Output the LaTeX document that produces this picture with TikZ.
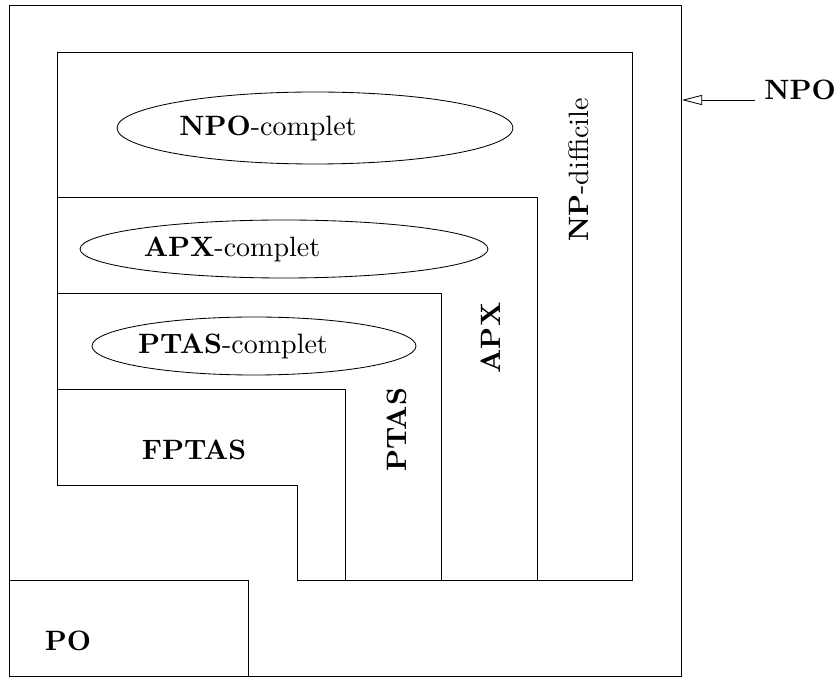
\documentclass[tikz,border=0pt]{standalone}
\usetikzlibrary{arrows.meta}
\tikzset{
  classe/.style={font=\bfseries, anchor=base},
  vclasse/.style={anchor=base, rotate=90},
  complet/.style={anchor=base},
  fleche/.style={-{Triangle[open, length=7.2pt, width=3.6pt]}}
}

\begin{document}
\begin{tikzpicture}[x=0.357pt, y=-0.357pt, line width=0.3pt]
\useasboundingbox (0,0) rectangle (837,677);
% Outer frame and PO
    \draw (9,5) rectangle (681,676);
    \draw (9,580) -- (248,580) -- (248,677);
% Nested classes
    \draw (57,485) -- (57,52) -- (632,52) -- (632,580) -- (297,580) -- (297,485) -- cycle;
    \draw (57,197) -- (537,197) -- (537,580);
    \draw (57,293) -- (441,293) -- (441,580);
    \draw (57,389) -- (345,389) -- (345,580);
% Complete problems
    \draw (315,128) ellipse (198 and 36);
    \draw (284,249) ellipse (204 and 29);
    \draw (254,346) ellipse (162 and 29);
    \node[complet] (npoc) at (268,136) {\textbf{NPO}-complet};
    \node[complet] (apxc) at (232,257) {\textbf{APX}-complet};
    \node[complet] (ptasc) at (233,354) {\textbf{PTAS}-complet};
% Class labels
    \node[vclasse] (npd) at (588,170) {\textbf{NP}-difficile};
    \node[vclasse, font=\bfseries] (apx) at (500,338) {APX};
    \node[vclasse, font=\bfseries] (ptas) at (406,430) {PTAS};
    \node[classe] (fptas) at (194,460) {FPTAS};
    \node[classe] (po) at (68,651) {PO};
    \node[classe] (npo) at (800,100) {NPO};
% Pointer to the outer frame
    \coordinate (bord) at (682,100);
    \draw[fleche] (npo.base west) -- (bord);
\end{tikzpicture}
\end{document}
